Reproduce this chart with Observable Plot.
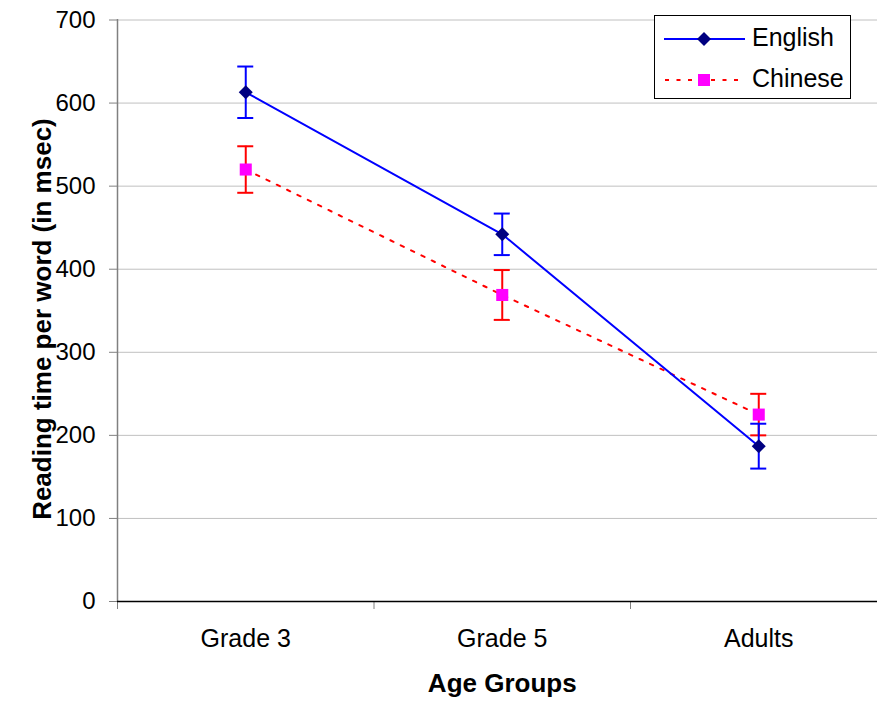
<!DOCTYPE html>
<html><head><meta charset="utf-8">
<script src="https://cdn.jsdelivr.net/npm/d3@7"></script>
<script src="https://cdn.jsdelivr.net/npm/@observablehq/plot@0.6"></script>
<style>
body{margin:0;background:#fff;font-family:"Liberation Sans",Arial,sans-serif;}
#wrap{position:relative;width:877px;height:703px;overflow:hidden;}
#legend{position:absolute;left:654px;top:15px;}
</style></head><body><div id="wrap"></div>
<script>
const categories = ["Grade 3", "Grade 5", "Adults"];
const englishMeans = [613, 442, 187];
const englishErrors = [31, 25, 27];
const chineseMeans = [520, 369, 225];
const chineseErrors = [28, 30, 25];
const yTicks = [0, 100, 200, 300, 400, 500, 600, 700];
const seriesNames = ["English", "Chinese"];
const xTitle = "Age Groups";
const yTitle = "Reading time per word (in msec)";

const english = categories.map((c, k) => ({pos: k + 0.5, cat: c, v: englishMeans[k], e: englishErrors[k]}));
const chinese = categories.map((c, k) => ({pos: k + 0.5, cat: c, v: chineseMeans[k], e: chineseErrors[k]}));

const BLUE = "#0000ff", NAVY = "#000080", RED = "#ff0000", MAGENTA = "#ff00ff";

function errorMarks(data, color) {
  return [
    Plot.ruleX(data, {x: "pos", y1: d => d.v - d.e, y2: d => d.v + d.e, stroke: color, strokeWidth: 2}),
    Plot.ruleY(data, {y: d => d.v + d.e, x1: "pos", x2: "pos", insetLeft: -8, insetRight: -8, stroke: color, strokeWidth: 2}),
    Plot.ruleY(data, {y: d => d.v - d.e, x1: "pos", x2: "pos", insetLeft: -8, insetRight: -8, stroke: color, strokeWidth: 2})
  ];
}

const chart = Plot.plot({
  width: 877,
  height: 703,
  marginLeft: 117,
  marginRight: 0,
  marginTop: 19,
  marginBottom: 102,
  style: {fontFamily: '"Liberation Sans", Arial, sans-serif', fontSize: "24px", background: "#fff", overflow: "visible"},
  x: {type: "linear", domain: [0, 3], range: [117, 886.5]},
  y: {domain: [0, 700], range: [601, 19.5]},
  marks: [
    Plot.ruleY(yTicks.slice(1), {stroke: "#c0c0c0", strokeWidth: 1}),
    Plot.ruleX([0], {stroke: "#808080", strokeWidth: 1.5}),
    Plot.axisY({ticks: yTicks, tickSize: 8, tickPadding: 14, stroke: "#808080", fill: "#000", fontSize: 24, label: null}),
    Plot.axisX({ticks: [0, 1, 2, 3], tickSize: 8, tickFormat: () => "", stroke: "#808080", label: null}),
    Plot.axisX({ticks: [0.5, 1.5, 2.5], tickSize: 0, tickPadding: 28, tickFormat: d => categories[Math.floor(d)], fill: "#000", fontSize: 25, label: null}),
    Plot.ruleY([0], {stroke: "#000", strokeWidth: 1.5}),
    ...errorMarks(chinese, RED),
    Plot.line(chinese, {x: "pos", y: "v", stroke: RED, strokeWidth: 2, strokeDasharray: "3.5,8"}),
    Plot.dot(chinese, {x: "pos", y: "v", symbol: "square", r: 6.8, fill: MAGENTA}),
    ...errorMarks(english, BLUE),
    Plot.line(english, {x: "pos", y: "v", stroke: BLUE, strokeWidth: 2}),
    Plot.dot(english, {x: "pos", y: "v", symbol: "diamond2", r: 6.3, fill: NAVY}),
    Plot.text([yTitle], {text: d => d, frameAnchor: "left", textAnchor: "middle", lineAnchor: "middle", y: () => 340, rotate: -90, dx: -74.5, fontSize: 26, fontWeight: "bold", fill: "#000"}),
    Plot.text([xTitle], {text: d => d, frameAnchor: "bottom", textAnchor: "middle", lineAnchor: "middle", x: () => 1.5, dy: 82, fontSize: 26, fontWeight: "bold", fill: "#000"})
  ]
});

const wrap = document.getElementById("wrap");
wrap.appendChild(chart);

// Legend
const ns = "http://www.w3.org/2000/svg";
const lg = document.createElementNS(ns, "svg");
lg.setAttribute("id", "legend");
lg.setAttribute("width", 198);
lg.setAttribute("height", 85);
lg.innerHTML = `
  <rect x="0.5" y="0.5" width="196" height="83" fill="#fff" stroke="#000" stroke-width="1"/>
  <line x1="10" y1="24" x2="91" y2="24" stroke="${BLUE}" stroke-width="2"/>
  <path d="M50,17 L57,24 L50,31 L43,24 Z" fill="${NAVY}"/>
  <text x="98" y="30.5" font-size="25" font-family="Liberation Sans, Arial, sans-serif">${seriesNames[0]}</text>
  <line x1="11" y1="65" x2="91" y2="65" stroke="${RED}" stroke-width="2" stroke-dasharray="4,7.5"/>
  <rect x="44" y="59" width="12" height="12" fill="${MAGENTA}"/>
  <text x="98" y="72" font-size="25" font-family="Liberation Sans, Arial, sans-serif">${seriesNames[1]}</text>
`;
wrap.appendChild(lg);
</script>
</body></html>
